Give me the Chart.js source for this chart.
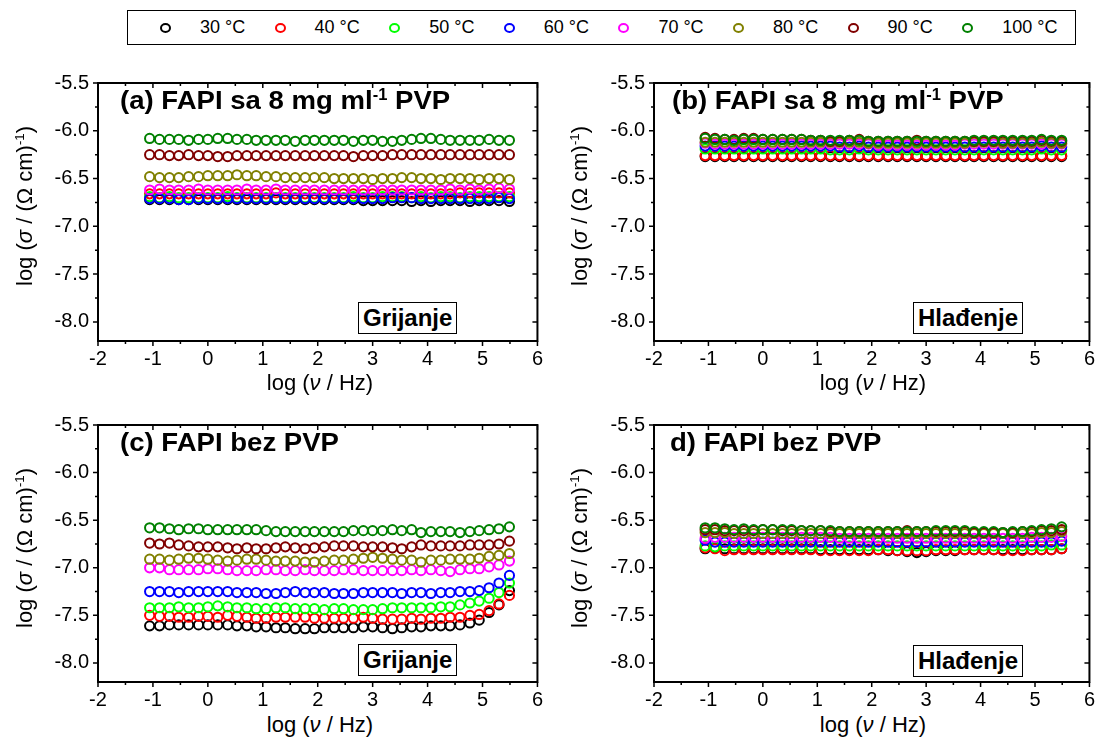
<!DOCTYPE html>
<html>
<head>
<meta charset="utf-8">
<script src="https://cdn.jsdelivr.net/npm/chart.js@4.4.0/dist/chart.umd.min.js"></script>
<style>
  body { margin: 0; background: #fff; width: 1102px; height: 737px; position: relative; overflow: hidden;
         font-family: "Liberation Sans", Arial, sans-serif; color: #000; }
  .panel { position: absolute; }
  .lbl { position: absolute; white-space: nowrap; }
  .ttl { font-weight: bold; font-size: 26px; transform: scaleX(1.06); transform-origin: left top; }
  .ttl sup, .ytitle sup { font-size: 0.6em; vertical-align: 0.6em; line-height: 0; }
  .box { font-weight: bold; font-size: 24px; border: 1px solid #000; padding: 1px 4px 1px 4px; background: #fff; }
  .ytitle { font-size: 22px; transform: translate(-50%, -50%) rotate(-90deg); }
  .xtitle { font-size: 22px; transform: translateX(-50%); }
  #legend { position: absolute; left: 127px; top: 10px; width: 947px; height: 33px; border: 1px solid #000; }
  .mk { position: absolute; top: 12px; width: 7px; height: 6px; border: 2px solid; border-radius: 50%; }
  .lt { position: absolute; top: 6px; font-size: 18px; }
</style>
</head>
<body>
<div id="legend"></div>

<div class="panel" id="wa"><canvas id="ca"></canvas></div>
<div class="panel" id="wb"><canvas id="cb"></canvas></div>
<div class="panel" id="wc"><canvas id="cc"></canvas></div>
<div class="panel" id="wd"><canvas id="cd"></canvas></div>

<div class="lbl ttl" style="left:120px; top:85px">(a) FAPI sa 8 mg ml<sup>-1</sup> PVP</div>
<div class="lbl ttl" style="left:672px; top:85px">(b) FAPI sa 8 mg ml<sup>-1</sup> PVP</div>
<div class="lbl ttl" style="left:120px; top:427px">(c) FAPI bez PVP</div>
<div class="lbl ttl" style="left:670px; top:427px">d) FAPI bez PVP</div>

<div class="lbl box" style="left:358px; top:302px">Grijanje</div>
<div class="lbl box" style="left:913px; top:302px">Hlađenje</div>
<div class="lbl box" style="left:358px; top:644px">Grijanje</div>
<div class="lbl box" style="left:913px; top:645px">Hlađenje</div>

<div class="lbl ytitle" style="left:25px; top:206px">log (<i>σ</i> / (Ω cm)<sup>-1</sup>)</div>
<div class="lbl ytitle" style="left:580px; top:206px">log (<i>σ</i> / (Ω cm)<sup>-1</sup>)</div>
<div class="lbl ytitle" style="left:25px; top:548px">log (<i>σ</i> / (Ω cm)<sup>-1</sup>)</div>
<div class="lbl ytitle" style="left:580px; top:548px">log (<i>σ</i> / (Ω cm)<sup>-1</sup>)</div>

<div class="lbl xtitle" style="left:320px; top:370px">log (<i>ν</i> / Hz)</div>
<div class="lbl xtitle" style="left:873px; top:370px">log (<i>ν</i> / Hz)</div>
<div class="lbl xtitle" style="left:320px; top:712px">log (<i>ν</i> / Hz)</div>
<div class="lbl xtitle" style="left:873px; top:712px">log (<i>ν</i> / Hz)</div>

<script>
// log frequency of each measured point (same for every curve)
const logNu = [-1.06, -0.88, -0.70, -0.53, -0.35, -0.17, 0.00, 0.18, 0.36, 0.53,
               0.71, 0.88, 1.06, 1.24, 1.41, 1.59, 1.77, 1.94, 2.12, 2.30,
               2.47, 2.65, 2.83, 3.00, 3.18, 3.36, 3.53, 3.71, 3.88, 4.06,
               4.24, 4.41, 4.59, 4.77, 4.94, 5.12, 5.30, 5.49];

const temps = ['30 °C', '40 °C', '50 °C', '60 °C', '70 °C', '80 °C', '90 °C', '100 °C'];
const colors = ['#000000', '#ff0000', '#00ff00', '#0000ff', '#ff00ff', '#808000', '#800000', '#008000'];

const yTicks = [-8.0, -7.5, -7.0, -6.5, -6.0, -5.5];
const xTicks = [-2, -1, 0, 1, 2, 3, 4, 5, 6];

// (a) FAPI + 8 mg/ml PVP, heating
const a30 = [-6.72, -6.72, -6.72, -6.72, -6.72, -6.72, -6.72, -6.72, -6.72, -6.72,
             -6.72, -6.72, -6.72, -6.72, -6.72, -6.72, -6.72, -6.72, -6.72, -6.72,
             -6.72, -6.72, -6.73, -6.73, -6.73, -6.73, -6.73, -6.74, -6.73, -6.74,
             -6.73, -6.73, -6.73, -6.74, -6.73, -6.73, -6.73, -6.74];
const a40 = [-6.66, -6.66, -6.66, -6.66, -6.66, -6.66, -6.66, -6.66, -6.66, -6.66,
             -6.66, -6.66, -6.66, -6.65, -6.66, -6.66, -6.66, -6.66, -6.66, -6.66,
             -6.66, -6.66, -6.66, -6.66, -6.66, -6.66, -6.66, -6.66, -6.66, -6.66,
             -6.66, -6.66, -6.65, -6.65, -6.65, -6.65, -6.65, -6.65];
const a50 = [-6.69, -6.70, -6.69, -6.70, -6.70, -6.70, -6.70, -6.70, -6.69, -6.70,
             -6.70, -6.70, -6.70, -6.70, -6.70, -6.70, -6.70, -6.70, -6.70, -6.70,
             -6.70, -6.69, -6.70, -6.70, -6.69, -6.69, -6.69, -6.70, -6.69, -6.70,
             -6.69, -6.69, -6.70, -6.69, -6.69, -6.69, -6.69, -6.69];
const a60 = [-6.71, -6.71, -6.71, -6.72, -6.72, -6.71, -6.71, -6.71, -6.71, -6.71,
             -6.71, -6.71, -6.71, -6.71, -6.71, -6.71, -6.71, -6.71, -6.71, -6.71,
             -6.71, -6.71, -6.71, -6.71, -6.71, -6.70, -6.70, -6.70, -6.71, -6.71,
             -6.71, -6.71, -6.71, -6.71, -6.71, -6.71, -6.70, -6.71];
const a70 = [-6.62, -6.61, -6.62, -6.62, -6.62, -6.61, -6.62, -6.62, -6.62, -6.62,
             -6.61, -6.62, -6.62, -6.61, -6.62, -6.62, -6.62, -6.62, -6.62, -6.62,
             -6.62, -6.62, -6.62, -6.62, -6.62, -6.62, -6.62, -6.62, -6.62, -6.62,
             -6.62, -6.61, -6.62, -6.61, -6.62, -6.61, -6.60, -6.61];
const a80 = [-6.48, -6.49, -6.49, -6.49, -6.48, -6.48, -6.47, -6.47, -6.47, -6.46,
             -6.47, -6.47, -6.48, -6.48, -6.49, -6.49, -6.49, -6.49, -6.49, -6.50,
             -6.50, -6.50, -6.50, -6.51, -6.50, -6.50, -6.49, -6.49, -6.50, -6.50,
             -6.51, -6.50, -6.50, -6.50, -6.51, -6.50, -6.50, -6.51];
const a90 = [-6.25, -6.25, -6.26, -6.26, -6.25, -6.26, -6.26, -6.27, -6.27, -6.26,
             -6.26, -6.26, -6.26, -6.26, -6.26, -6.26, -6.26, -6.26, -6.26, -6.26,
             -6.26, -6.27, -6.26, -6.26, -6.26, -6.25, -6.25, -6.25, -6.25, -6.25,
             -6.25, -6.25, -6.25, -6.25, -6.25, -6.25, -6.25, -6.25];
const a100 = [-6.08, -6.09, -6.09, -6.09, -6.10, -6.09, -6.09, -6.08, -6.08, -6.09,
              -6.09, -6.10, -6.10, -6.10, -6.10, -6.11, -6.10, -6.10, -6.10, -6.10,
              -6.10, -6.11, -6.10, -6.10, -6.11, -6.11, -6.10, -6.09, -6.08, -6.08,
              -6.09, -6.10, -6.10, -6.10, -6.10, -6.09, -6.10, -6.10];

// (b) FAPI + 8 mg/ml PVP, cooling
const b30 = [-6.27, -6.27, -6.27, -6.27, -6.27, -6.27, -6.27, -6.27, -6.27, -6.27,
             -6.27, -6.27, -6.27, -6.27, -6.27, -6.27, -6.27, -6.27, -6.27, -6.27,
             -6.27, -6.27, -6.27, -6.27, -6.27, -6.27, -6.27, -6.27, -6.27, -6.27,
             -6.27, -6.27, -6.27, -6.27, -6.27, -6.27, -6.27, -6.27];
const b40 = [-6.26, -6.26, -6.26, -6.26, -6.26, -6.26, -6.26, -6.26, -6.26, -6.26,
             -6.26, -6.26, -6.26, -6.26, -6.26, -6.26, -6.26, -6.26, -6.26, -6.26,
             -6.26, -6.26, -6.26, -6.26, -6.26, -6.26, -6.26, -6.26, -6.26, -6.26,
             -6.26, -6.26, -6.26, -6.26, -6.26, -6.26, -6.26, -6.26];
const b50 = [-6.19, -6.19, -6.19, -6.19, -6.19, -6.19, -6.19, -6.19, -6.19, -6.19,
             -6.19, -6.19, -6.19, -6.20, -6.20, -6.20, -6.19, -6.20, -6.20, -6.20,
             -6.20, -6.20, -6.20, -6.20, -6.20, -6.20, -6.20, -6.20, -6.20, -6.20,
             -6.20, -6.20, -6.20, -6.20, -6.20, -6.19, -6.20, -6.20];
const b60 = [-6.16, -6.16, -6.16, -6.16, -6.16, -6.16, -6.16, -6.16, -6.16, -6.16,
             -6.16, -6.16, -6.16, -6.16, -6.17, -6.17, -6.16, -6.17, -6.17, -6.17,
             -6.17, -6.17, -6.17, -6.17, -6.17, -6.17, -6.17, -6.17, -6.17, -6.17,
             -6.17, -6.17, -6.17, -6.17, -6.17, -6.16, -6.17, -6.17];
const b70 = [-6.13, -6.14, -6.14, -6.14, -6.14, -6.14, -6.14, -6.14, -6.14, -6.14,
             -6.14, -6.14, -6.14, -6.14, -6.14, -6.14, -6.14, -6.14, -6.15, -6.15,
             -6.15, -6.15, -6.15, -6.15, -6.15, -6.15, -6.15, -6.14, -6.14, -6.14,
             -6.14, -6.14, -6.14, -6.14, -6.14, -6.14, -6.14, -6.14];
const b80 = [-6.12, -6.12, -6.12, -6.12, -6.12, -6.12, -6.12, -6.12, -6.12, -6.12,
             -6.12, -6.12, -6.12, -6.12, -6.12, -6.12, -6.12, -6.13, -6.13, -6.13,
             -6.13, -6.13, -6.13, -6.13, -6.13, -6.13, -6.13, -6.13, -6.12, -6.12,
             -6.12, -6.13, -6.13, -6.13, -6.13, -6.12, -6.13, -6.13];
const b90 = [-6.07, -6.08, -6.09, -6.09, -6.08, -6.08, -6.09, -6.09, -6.09, -6.09,
             -6.09, -6.10, -6.10, -6.11, -6.11, -6.10, -6.09, -6.11, -6.11, -6.11,
             -6.11, -6.11, -6.10, -6.11, -6.11, -6.11, -6.11, -6.11, -6.11, -6.11,
             -6.11, -6.11, -6.11, -6.11, -6.11, -6.10, -6.11, -6.11];
const b100 = [-6.08, -6.09, -6.09, -6.10, -6.09, -6.09, -6.09, -6.09, -6.09, -6.09,
              -6.09, -6.10, -6.10, -6.10, -6.10, -6.10, -6.10, -6.11, -6.11, -6.11,
              -6.11, -6.11, -6.11, -6.11, -6.11, -6.11, -6.11, -6.11, -6.10, -6.10,
              -6.10, -6.10, -6.10, -6.10, -6.10, -6.09, -6.10, -6.10];

// (c) FAPI without PVP, heating
const c30 = [-7.61, -7.61, -7.60, -7.60, -7.60, -7.60, -7.60, -7.60, -7.60, -7.61,
             -7.61, -7.62, -7.62, -7.63, -7.63, -7.64, -7.64, -7.64, -7.63, -7.63,
             -7.63, -7.63, -7.62, -7.62, -7.63, -7.64, -7.63, -7.62, -7.62, -7.61,
             -7.61, -7.61, -7.60, -7.58, -7.55, -7.47, -7.39, -7.24];
const c40 = [-7.50, -7.51, -7.51, -7.52, -7.52, -7.51, -7.51, -7.52, -7.50, -7.51,
             -7.52, -7.53, -7.53, -7.52, -7.52, -7.52, -7.52, -7.53, -7.53, -7.53,
             -7.53, -7.53, -7.52, -7.53, -7.54, -7.54, -7.54, -7.53, -7.54, -7.53,
             -7.53, -7.52, -7.52, -7.50, -7.49, -7.45, -7.38, -7.29];
const c50 = [-7.42, -7.42, -7.42, -7.41, -7.42, -7.42, -7.41, -7.40, -7.41, -7.42,
             -7.42, -7.43, -7.43, -7.42, -7.42, -7.43, -7.43, -7.43, -7.44, -7.43,
             -7.43, -7.44, -7.44, -7.44, -7.43, -7.42, -7.42, -7.42, -7.42, -7.42,
             -7.41, -7.41, -7.39, -7.37, -7.35, -7.32, -7.26, -7.16];
const c60 = [-7.25, -7.25, -7.25, -7.26, -7.25, -7.25, -7.25, -7.25, -7.25, -7.26,
             -7.26, -7.26, -7.27, -7.27, -7.26, -7.25, -7.26, -7.26, -7.26, -7.27,
             -7.27, -7.27, -7.26, -7.26, -7.26, -7.26, -7.27, -7.26, -7.26, -7.27,
             -7.26, -7.26, -7.25, -7.25, -7.24, -7.21, -7.16, -7.08];
const c70 = [-7.00, -7.00, -7.02, -7.02, -7.02, -7.02, -7.01, -7.01, -7.02, -7.03,
             -7.03, -7.03, -7.02, -7.02, -7.03, -7.03, -7.02, -7.03, -7.03, -7.03,
             -7.02, -7.02, -7.03, -7.03, -7.03, -7.03, -7.03, -7.02, -7.03, -7.02,
             -7.03, -7.04, -7.02, -7.01, -7.01, -6.99, -6.97, -6.93];
const c80 = [-6.91, -6.91, -6.92, -6.91, -6.90, -6.90, -6.91, -6.92, -6.93, -6.92,
             -6.91, -6.91, -6.92, -6.93, -6.93, -6.93, -6.94, -6.94, -6.93, -6.92,
             -6.92, -6.91, -6.90, -6.89, -6.90, -6.91, -6.92, -6.92, -6.94, -6.92,
             -6.92, -6.91, -6.91, -6.91, -6.90, -6.88, -6.87, -6.85];
const c90 = [-6.74, -6.75, -6.74, -6.76, -6.77, -6.78, -6.78, -6.78, -6.79, -6.80,
             -6.79, -6.80, -6.80, -6.79, -6.78, -6.79, -6.80, -6.79, -6.78, -6.77,
             -6.77, -6.77, -6.78, -6.78, -6.78, -6.79, -6.80, -6.78, -6.76, -6.77,
             -6.77, -6.77, -6.77, -6.76, -6.76, -6.76, -6.75, -6.72];
const c100 = [-6.58, -6.58, -6.59, -6.60, -6.59, -6.59, -6.60, -6.60, -6.60, -6.60,
              -6.60, -6.60, -6.61, -6.62, -6.62, -6.62, -6.62, -6.62, -6.62, -6.62,
              -6.62, -6.61, -6.61, -6.61, -6.61, -6.60, -6.61, -6.60, -6.63, -6.62,
              -6.62, -6.62, -6.63, -6.62, -6.61, -6.60, -6.59, -6.57];

// (d) FAPI without PVP, cooling
const d30 = [-6.80, -6.79, -6.80, -6.80, -6.80, -6.80, -6.80, -6.80, -6.80, -6.80,
             -6.80, -6.80, -6.81, -6.81, -6.81, -6.81, -6.81, -6.81, -6.81, -6.82,
             -6.82, -6.83, -6.84, -6.83, -6.82, -6.82, -6.82, -6.81, -6.81, -6.81,
             -6.81, -6.81, -6.81, -6.81, -6.81, -6.81, -6.81, -6.80];
const d40 = [-6.79, -6.80, -6.82, -6.81, -6.81, -6.81, -6.81, -6.81, -6.81, -6.81,
             -6.81, -6.81, -6.82, -6.82, -6.82, -6.82, -6.82, -6.82, -6.81, -6.81,
             -6.82, -6.82, -6.82, -6.82, -6.81, -6.81, -6.81, -6.81, -6.81, -6.81,
             -6.81, -6.82, -6.82, -6.82, -6.81, -6.81, -6.81, -6.80];
const d50 = [-6.77, -6.78, -6.77, -6.77, -6.77, -6.77, -6.77, -6.77, -6.77, -6.77,
             -6.77, -6.77, -6.77, -6.77, -6.77, -6.77, -6.77, -6.77, -6.77, -6.77,
             -6.77, -6.77, -6.77, -6.77, -6.77, -6.77, -6.77, -6.77, -6.77, -6.77,
             -6.77, -6.77, -6.77, -6.77, -6.77, -6.77, -6.76, -6.76];
const d60 = [-6.71, -6.73, -6.73, -6.73, -6.73, -6.73, -6.73, -6.73, -6.73, -6.73,
             -6.73, -6.73, -6.73, -6.73, -6.73, -6.73, -6.73, -6.73, -6.73, -6.73,
             -6.73, -6.73, -6.73, -6.73, -6.73, -6.73, -6.73, -6.73, -6.73, -6.73,
             -6.73, -6.73, -6.73, -6.73, -6.73, -6.73, -6.73, -6.72];
const d70 = [-6.69, -6.68, -6.68, -6.68, -6.68, -6.68, -6.68, -6.68, -6.68, -6.68,
             -6.68, -6.68, -6.68, -6.68, -6.69, -6.69, -6.69, -6.69, -6.69, -6.69,
             -6.69, -6.69, -6.69, -6.69, -6.69, -6.69, -6.69, -6.69, -6.69, -6.69,
             -6.69, -6.69, -6.69, -6.69, -6.68, -6.68, -6.68, -6.67];
const d80 = [-6.63, -6.63, -6.63, -6.64, -6.64, -6.64, -6.64, -6.64, -6.64, -6.64,
             -6.64, -6.64, -6.64, -6.64, -6.64, -6.64, -6.64, -6.64, -6.64, -6.64,
             -6.64, -6.64, -6.64, -6.64, -6.64, -6.64, -6.64, -6.64, -6.64, -6.64,
             -6.64, -6.64, -6.64, -6.64, -6.64, -6.63, -6.63, -6.62];
const d90 = [-6.60, -6.60, -6.61, -6.61, -6.61, -6.61, -6.60, -6.60, -6.61, -6.61,
             -6.61, -6.61, -6.61, -6.62, -6.62, -6.62, -6.62, -6.62, -6.62, -6.62,
             -6.62, -6.61, -6.62, -6.62, -6.62, -6.62, -6.62, -6.62, -6.63, -6.63,
             -6.63, -6.63, -6.63, -6.62, -6.62, -6.61, -6.61, -6.60];
const d100 = [-6.58, -6.58, -6.59, -6.60, -6.59, -6.60, -6.60, -6.60, -6.60, -6.60,
              -6.61, -6.61, -6.61, -6.61, -6.62, -6.62, -6.62, -6.62, -6.62, -6.62,
              -6.62, -6.62, -6.62, -6.62, -6.61, -6.61, -6.61, -6.61, -6.62, -6.62,
              -6.62, -6.63, -6.62, -6.62, -6.61, -6.60, -6.59, -6.57];

const FONT = '"Liberation Sans", Arial, sans-serif';

// box with minor ticks: left/bottom ticks point out, top/right point in
const framePlugin = {
    id: 'frame',
    afterDatasetsDraw(chart) {
        const ctx = chart.ctx;
        const area = chart.chartArea;
        const xs = chart.scales.x;
        const ys = chart.scales.y;
        ctx.save();
        ctx.strokeStyle = '#000';
        ctx.lineWidth = 2;
        ctx.strokeRect(area.left, area.top, area.right - area.left, area.bottom - area.top);

        const withMinor = (vals) => {
            const out = [];
            vals.forEach((v, i) => {
                out.push({ v: v, major: true });
                if (i < vals.length - 1) out.push({ v: (v + vals[i + 1]) / 2, major: false });
            });
            return out;
        };

        ctx.lineWidth = 1.5;
        ctx.beginPath();
        withMinor(ys.ticks.map(t => t.value)).forEach(t => {
            const py = ys.getPixelForValue(t.v);
            const len = t.major ? 5 : 3;
            ctx.moveTo(area.left, py); ctx.lineTo(area.left - len, py);
            ctx.moveTo(area.right, py); ctx.lineTo(area.right - len, py);
        });
        withMinor(xs.ticks.map(t => t.value)).forEach(t => {
            const px = xs.getPixelForValue(t.v);
            const len = t.major ? 5 : 3;
            ctx.moveTo(px, area.bottom); ctx.lineTo(px, area.bottom + len);
            ctx.moveTo(px, area.top); ctx.lineTo(px, area.top + len);
        });
        ctx.stroke();
        ctx.restore();
    }
};

// room around each plot area for tick labels
const PAD_L = 62, PAD_T = 10, PAD_R = 8, PAD_B = 30;

function makePanel(wrapId, canvasId, box, series) {
    const w = box[2] - box[0] + PAD_L + PAD_R;
    const h = box[3] - box[1] + PAD_T + PAD_B;
    const wrap = document.getElementById(wrapId);
    wrap.style.left = (box[0] - PAD_L) + 'px';
    wrap.style.top = (box[1] - PAD_T) + 'px';
    const canvas = document.getElementById(canvasId);
    canvas.width = w;
    canvas.height = h;

    new Chart(canvas, {
        type: 'scatter',
        data: {
            datasets: series.map((ys, i) => ({
                label: temps[i],
                data: logNu.map((x, k) => ({ x: x, y: ys[k] })),
                borderColor: colors[i],
                backgroundColor: 'rgba(0,0,0,0)',
                pointRadius: 4.6,
                pointBorderWidth: 2,
                pointHoverRadius: 4.6,
                order: series.length - i,
            })),
        },
        options: {
            responsive: false,
            animation: false,
            events: [],
            layout: { padding: { left: 0, top: PAD_T, right: PAD_R, bottom: 0 } },
            plugins: { legend: { display: false }, tooltip: { enabled: false } },
            scales: {
                x: {
                    type: 'linear', min: -2, max: 6,
                    afterBuildTicks: s => { s.ticks = xTicks.map(v => ({ value: v })); },
                    afterFit: s => { s.height = PAD_B; },
                    grid: { display: false, drawTicks: false },
                    border: { display: false },
                    ticks: { color: '#000', padding: 6, font: { family: FONT, size: 20 },
                             callback: v => String(v) },
                },
                y: {
                    type: 'linear', min: -8.2, max: -5.5,
                    afterBuildTicks: s => { s.ticks = yTicks.map(v => ({ value: v })); },
                    afterFit: s => { s.width = PAD_L; },
                    grid: { display: false, drawTicks: false },
                    border: { display: false },
                    ticks: { color: '#000', padding: 9, font: { family: FONT, size: 20 },
                             callback: v => v.toFixed(1) },
                },
            },
        },
        plugins: [framePlugin],
    });
}

function buildLegend() {
    const lg = document.getElementById('legend');
    temps.forEach((t, i) => {
        const mk = document.createElement('span');
        mk.className = 'mk';
        mk.style.left = (32 + i * 114.6) + 'px';
        mk.style.borderColor = colors[i];
        lg.appendChild(mk);
        const tx = document.createElement('span');
        tx.className = 'lt';
        tx.style.left = (72 + i * 114.6) + 'px';
        tx.textContent = t;
        lg.appendChild(tx);
    });
}

buildLegend();
makePanel('wa', 'ca', [98, 72, 541, 341], [a30, a40, a50, a60, a70, a80, a90, a100]);
makePanel('wb', 'cb', [654, 72, 1093, 341], [b30, b40, b50, b60, b70, b80, b90, b100]);
makePanel('wc', 'cc', [98, 414, 541, 682], [c30, c40, c50, c60, c70, c80, c90, c100]);
makePanel('wd', 'cd', [654, 414, 1093, 682], [d30, d40, d50, d60, d70, d80, d90, d100]);
</script>
</body>
</html>
